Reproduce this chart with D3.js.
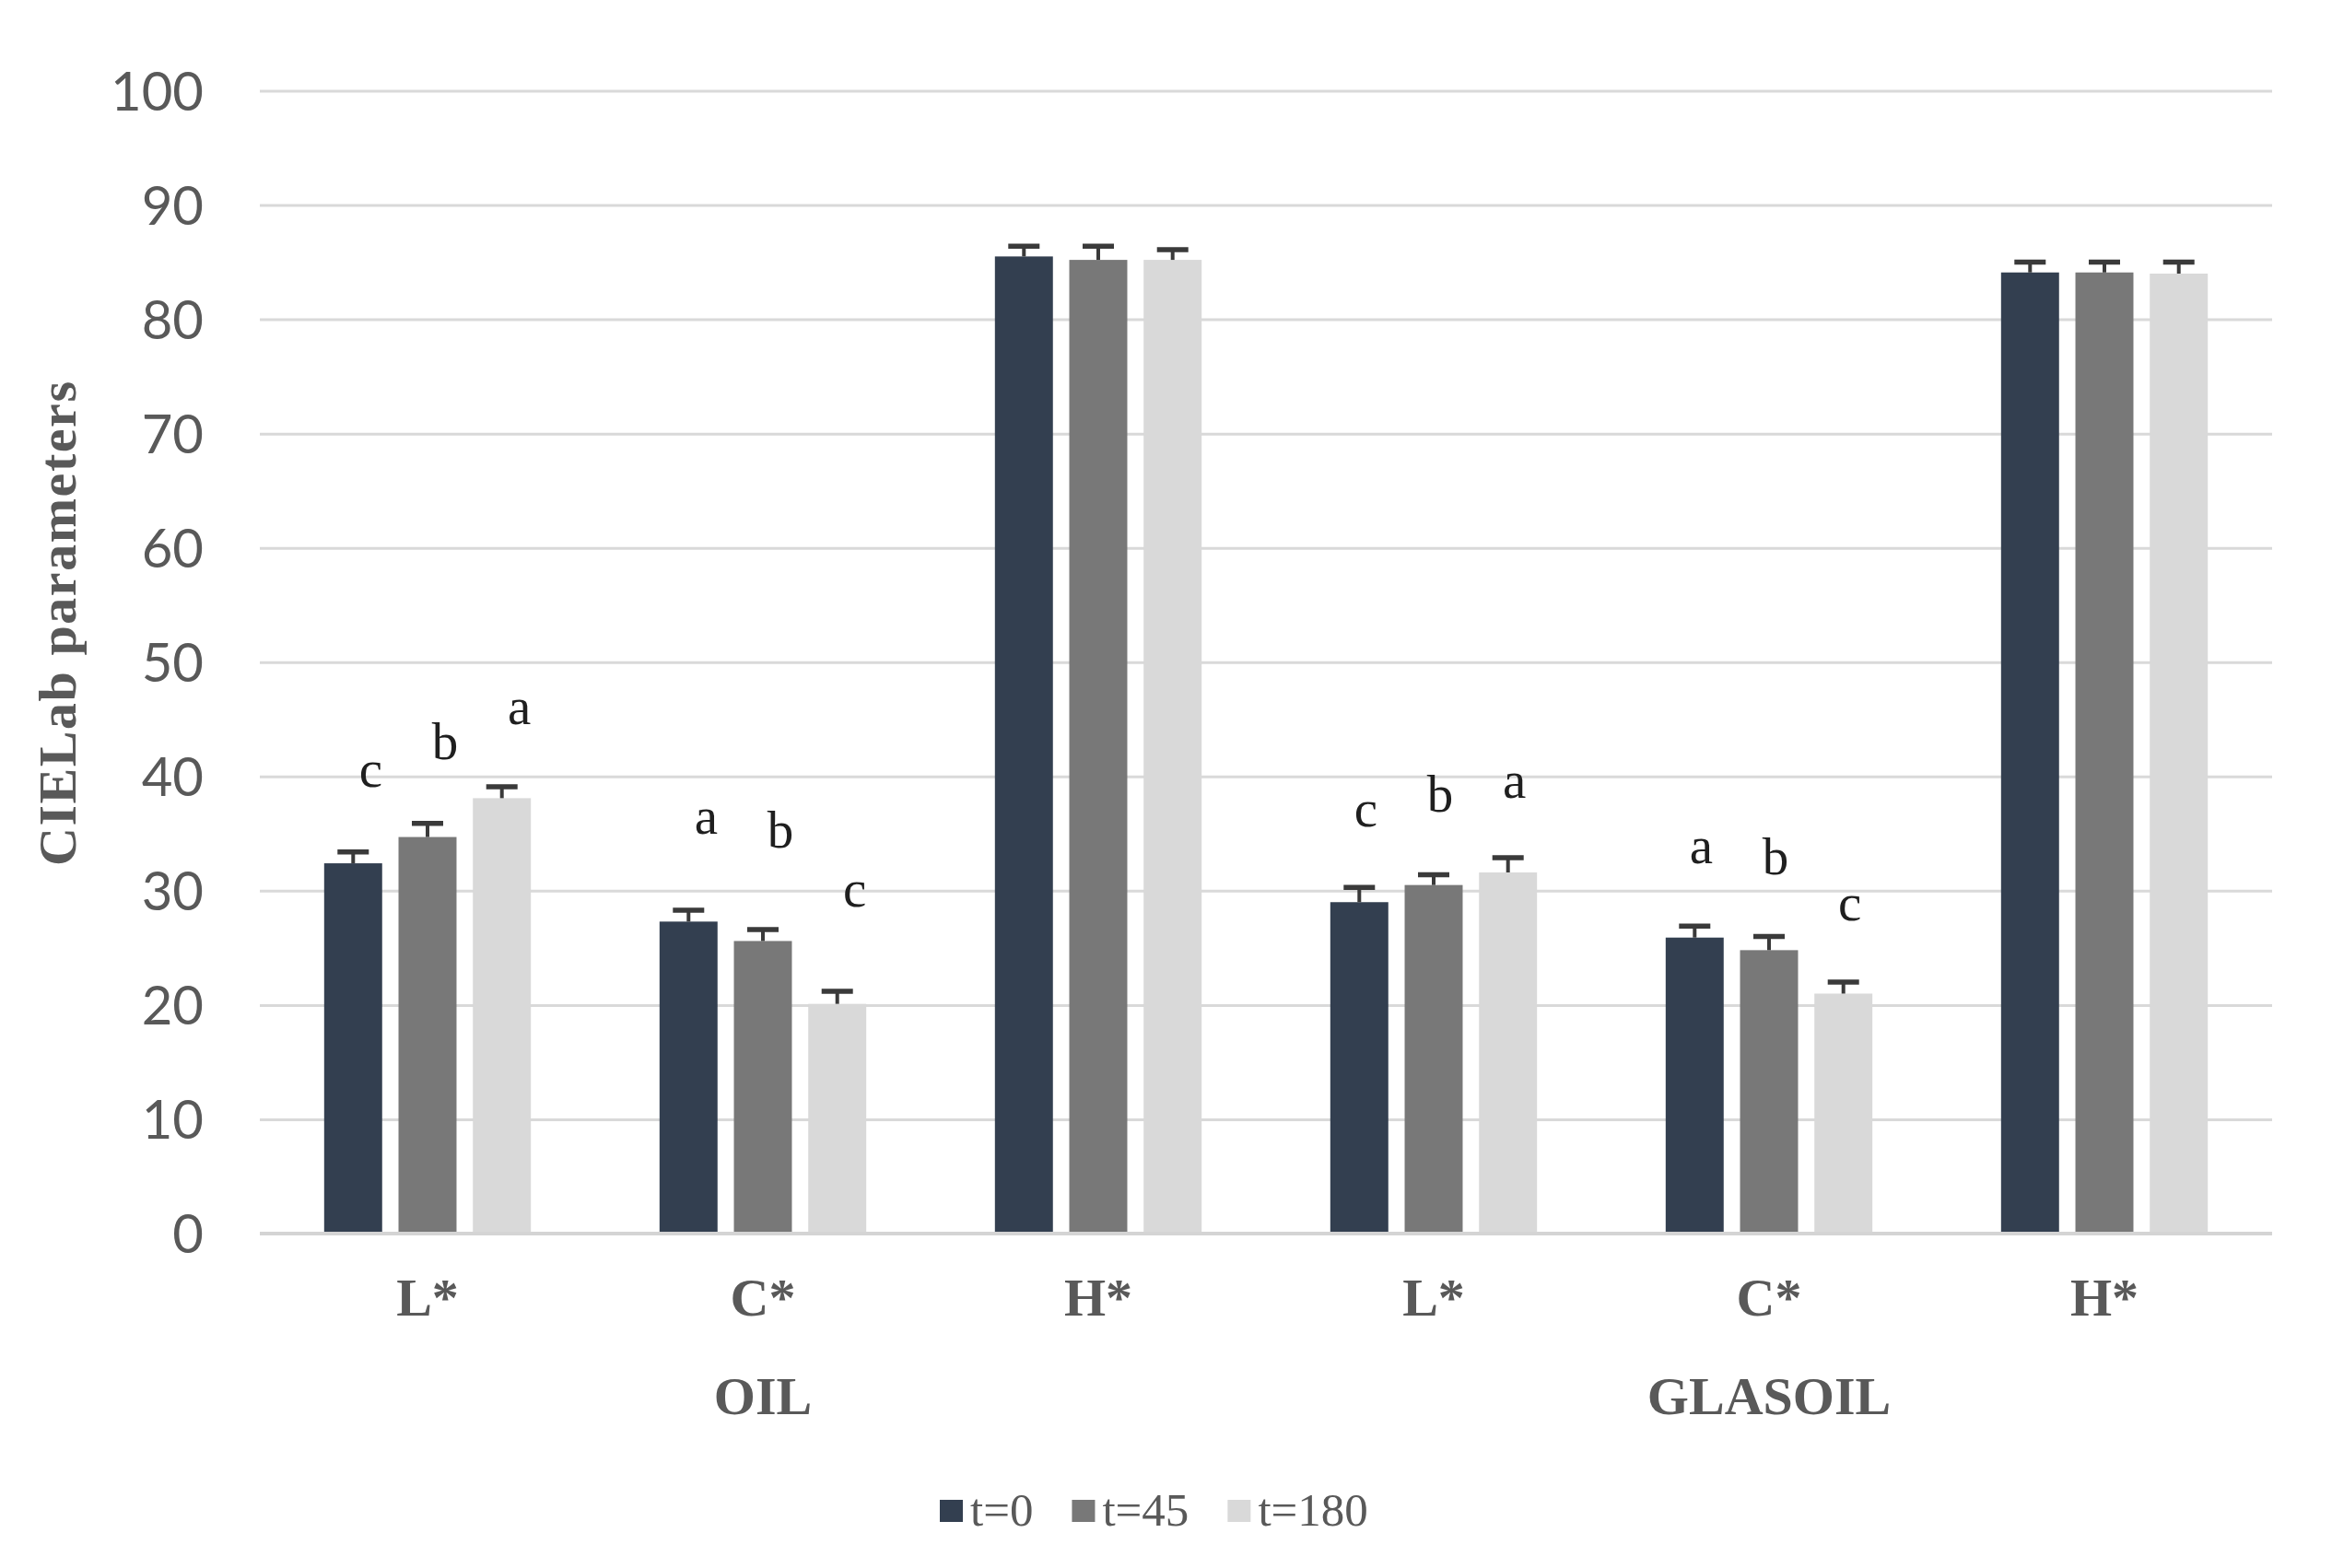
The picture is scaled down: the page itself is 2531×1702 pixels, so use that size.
<!DOCTYPE html>
<html>
<head>
<meta charset="utf-8">
<script src="https://cdn.jsdelivr.net/npm/d3@7"></script>
<style>
  html, body { margin: 0; padding: 0; background: #ffffff; }
  svg { display: block; }
</style>
</head>
<body>
<svg id="chart" width="2531" height="1702"></svg>
<script>
// ---------------- data ----------------
const categories = ["L*", "C*", "H*", "L*", "C*", "H*"];
const groupNames = ["OIL", "GLASOIL"];
const groupOfCategory = [0, 0, 0, 1, 1, 1];
const seriesNames = ["t=0", "t=45", "t=180"];

const valuesT0   = [32.4, 27.3, 85.5, 29.0, 25.9, 84.1];
const valuesT45  = [34.7, 25.6, 85.2, 30.5, 24.8, 84.1];
const valuesT180 = [38.1, 20.1, 85.2, 31.6, 21.0, 84.0];

const errT0   = [1.0, 1.0, 0.9, 1.3, 1.0, 0.9];
const errT45  = [1.2, 1.0, 1.2, 0.9, 1.2, 0.9];
const errT180 = [1.0, 1.1, 0.9, 1.3, 1.0, 1.0];

const lettersT0   = ["c", "a", "", "c", "a", ""];
const lettersT45  = ["b", "b", "", "b", "b", ""];
const lettersT180 = ["a", "c", "", "a", "c", ""];
// letter baselines, in axis units
const letterLevelT0   = [39.1, 35.0, null, 35.6, 32.4, null];
const letterLevelT45  = [41.5, 33.8, null, 36.9, 31.4, null];
const letterLevelT180 = [44.6, 28.6, null, 38.1, 27.4, null];

const yTicks = [0, 10, 20, 30, 40, 50, 60, 70, 80, 90, 100];
const yTitle = "CIELab parameters";

// ---------------- layout / style ----------------
const colors = ["#333f50", "#787878", "#d9d9d9"];
const plot = { left: 282, right: 2466, top: 98.5, bottom: 1339 };
const letterShift = [19, 7]; // per group, px

const seriesValues = [valuesT0, valuesT45, valuesT180];
const seriesErr = [errT0, errT45, errT180];
const seriesLetters = [lettersT0, lettersT45, lettersT180];
const seriesLetterLevel = [letterLevelT0, letterLevelT45, letterLevelT180];

const catIdx = categories.map((_, i) => i);
const rows = [];
catIdx.forEach(ci => {
  seriesNames.forEach((s, si) => {
    rows.push({
      ci, si, series: s,
      value: seriesValues[si][ci],
      err: seriesErr[si][ci],
      letter: seriesLetters[si][ci],
      level: seriesLetterLevel[si][ci]
    });
  });
});

const svg = d3.select("#chart");
svg.append("rect").attr("width", 2531).attr("height", 1702).attr("fill", "#fff");

const x0 = d3.scaleBand().domain(catIdx).range([plot.left, plot.right]).padding(0);
const x1 = d3.scaleBand().domain(seriesNames).range([0, x0.bandwidth()])
  .paddingInner(0.22).paddingOuter(0.865);
const y = d3.scaleLinear().domain([0, 100]).range([plot.bottom, plot.top]);

// gridlines
const grid = svg.append("g")
  .attr("transform", `translate(${plot.left},0)`)
  .call(d3.axisLeft(y).tickValues(yTicks.filter(t => t !== 0)).tickSize(-(plot.right - plot.left)).tickFormat(""));
grid.select(".domain").remove();
grid.selectAll("line").attr("stroke", "#d9d9d9").attr("stroke-width", 3);

// y tick labels
const yAxis = svg.append("g")
  .attr("transform", `translate(${plot.left},0)`)
  .call(d3.axisLeft(y).tickValues(yTicks).tickSize(0).tickPadding(61));
yAxis.select(".domain").remove();
yAxis.selectAll("text")
  .attr("font-family", "Lato, 'Open Sans', sans-serif")
  .attr("font-size", 58)
  .attr("fill", "#595959")
  .attr("dy", "0.36em");

// bars
const barG = svg.append("g");
barG.selectAll("rect.bar").data(rows).join("rect")
  .attr("class", "bar")
  .attr("x", d => x0(d.ci) + x1(d.series))
  .attr("width", x1.bandwidth())
  .attr("y", d => y(d.value))
  .attr("height", d => y(0) - y(d.value))
  .attr("fill", d => colors[d.si]);

// x axis baseline
svg.append("line")
  .attr("x1", plot.left).attr("x2", plot.right)
  .attr("y1", y(0)).attr("y2", y(0))
  .attr("stroke", "#d4d4d4").attr("stroke-width", 4);

// error bars (plus direction)
const errG = svg.append("g").attr("stroke", "#3a3a3a");
errG.selectAll("line.stem").data(rows).join("line")
  .attr("class", "stem")
  .attr("x1", d => x0(d.ci) + x1(d.series) + x1.bandwidth() / 2)
  .attr("x2", d => x0(d.ci) + x1(d.series) + x1.bandwidth() / 2)
  .attr("y1", d => y(d.value))
  .attr("y2", d => y(d.value + d.err))
  .attr("stroke-width", 4);
errG.selectAll("line.cap").data(rows).join("line")
  .attr("class", "cap")
  .attr("x1", d => x0(d.ci) + x1(d.series) + x1.bandwidth() / 2 - 17)
  .attr("x2", d => x0(d.ci) + x1(d.series) + x1.bandwidth() / 2 + 17)
  .attr("y1", d => y(d.value + d.err))
  .attr("y2", d => y(d.value + d.err))
  .attr("stroke-width", 5.5);

// significance letters
svg.append("g").selectAll("text").data(rows.filter(d => d.letter)).join("text")
  .attr("x", d => x0(d.ci) + x1(d.series) + x1.bandwidth() / 2 + letterShift[groupOfCategory[d.ci]])
  .attr("y", d => y(d.level))
  .attr("text-anchor", "middle")
  .attr("font-family", "'Liberation Serif', 'Times New Roman', serif")
  .attr("font-size", 57)
  .attr("fill", "#1f1f1f")
  .text(d => d.letter);

// category labels
const xAxis = svg.append("g")
  .attr("transform", `translate(0,${y(0)})`)
  .call(d3.axisBottom(x0).tickSize(0).tickPadding(0).tickFormat(i => categories[i]));
xAxis.select(".domain").remove();
xAxis.selectAll("text")
  .attr("y", 1428 - y(0))
  .attr("dy", 0)
  .attr("font-family", "'Liberation Serif', 'Times New Roman', serif")
  .attr("font-weight", "bold")
  .attr("font-size", 58)
  .attr("fill", "#595959");

// group labels
svg.append("g").selectAll("text").data(groupNames).join("text")
  .attr("x", (g, gi) => {
    const idx = catIdx.filter(i => groupOfCategory[i] === gi);
    return d3.mean(idx, i => x0(i) + x0.bandwidth() / 2);
  })
  .attr("y", 1535)
  .attr("text-anchor", "middle")
  .attr("font-family", "'Liberation Serif', 'Times New Roman', serif")
  .attr("font-weight", "bold")
  .attr("font-size", 58)
  .attr("fill", "#595959")
  .text(d => d);

// y title
svg.append("text")
  .attr("transform", "translate(82,677) rotate(-90)")
  .attr("text-anchor", "middle")
  .attr("font-family", "'Liberation Serif', 'Times New Roman', serif")
  .attr("font-weight", "bold")
  .attr("font-size", 58)
  .attr("textLength", 526)
  .attr("lengthAdjust", "spacing")
  .attr("fill", "#595959")
  .text(yTitle);

// legend
const legend = svg.append("g");
let lx = 1020;
seriesNames.forEach((s, si) => {
  legend.append("rect")
    .attr("x", lx).attr("y", 1628).attr("width", 25).attr("height", 24)
    .attr("fill", colors[si]);
  const t = legend.append("text")
    .attr("x", lx + 33).attr("y", 1656)
    .attr("font-family", "'Liberation Serif', 'Times New Roman', serif")
    .attr("font-size", 51)
    .attr("fill", "#595959")
    .text(s);
  lx = lx + 33 + t.node().getComputedTextLength() + 42;
});
</script>
</body>
</html>
